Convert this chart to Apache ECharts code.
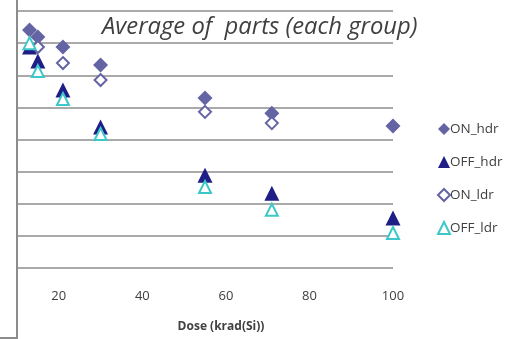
<!DOCTYPE html>
<html><head><meta charset="utf-8">
<script src="https://cdn.jsdelivr.net/npm/echarts@6/dist/echarts.min.js"></script>
<style>html,body{margin:0;padding:0;background:#fff}#c{width:525px;height:339px}</style>
</head><body><div id="c"></div>
<script>
var title = 'Average of  parts (each group)';
var xName = 'Dose (krad(Si))';
var xTicks = [20, 40, 60, 80, 100];
var onHdr  = [[13, 7.41], [15, 7.19], [21, 6.88], [30, 6.32], [55, 5.29], [71, 4.82], [100, 4.42]];
var offHdr = [[13, 6.88], [15, 6.44], [21, 5.54], [30, 4.39], [55, 2.89], [71, 2.33], [100, 1.56]];
var onLdr  = [[15, 6.88], [21, 6.38], [30, 5.85], [55, 4.86], [71, 4.51]];
var offLdr = [[13, 7.00], [15, 6.13], [21, 5.26], [30, 4.17], [55, 2.52], [71, 1.81], [100, 1.09]];

var chart = echarts.init(document.getElementById('c'), null, {renderer: 'canvas'});
var font = 'Open Sans';
chart.setOption({
  animation: false,
  backgroundColor: '#fff',
  title: {
    text: title, left: 97, top: 10,
    textStyle: {fontFamily: font, fontStyle: 'italic', fontWeight: 'normal', fontSize: 23.8, color: '#404040'}
  },
  legend: {
    orient: 'vertical', left: 432, top: 117,
    itemWidth: 12, itemHeight: 12, itemGap: 19,
    textStyle: {fontFamily: font, fontSize: 13.5, color: '#404040', lineHeight: 14, padding: [0, 0, 0, -5]},
    data: ['ON_hdr', 'OFF_hdr', 'ON_ldr', 'OFF_ldr']
  },
  grid: {left: 17, right: 132, top: 11, bottom: 71},
  xAxis: {
    type: 'value', min: 10, max: 100, interval: 10,
    name: xName, nameLocation: 'middle', nameGap: 53,
    nameTextStyle: {fontFamily: font, fontWeight: 'bold', fontSize: 12, color: '#404040', padding: [0, 0, 0, 32]},
    axisLine: {show: false}, axisTick: {show: false}, splitLine: {show: false},
    axisLabel: {
      margin: 22, fontFamily: font, fontSize: 13, color: '#404040',
      formatter: function (v) { return xTicks.indexOf(v) >= 0 ? String(v) : ''; }
    }
  },
  yAxis: {
    type: 'value', min: 0, max: 8, interval: 1,
    axisLine: {show: false}, axisTick: {show: false}, axisLabel: {show: false},
    splitLine: {lineStyle: {color: '#8c8c8c', width: 1.6}}
  },
  graphic: [
    {type: 'polyline', shape: {points: [[17, 0], [17, 338], [0, 338]]}, style: {stroke: '#8c8c8c', lineWidth: 2, fill: null}, z: 100}
  ],
  series: [
    {name: 'ON_hdr', type: 'scatter', data: onHdr, symbol: 'diamond', symbolSize: 15,
     itemStyle: {color: '#6464a4', opacity: 1}},
    {name: 'OFF_hdr', type: 'scatter', data: offHdr, symbol: 'triangle', symbolSize: 15,
     itemStyle: {color: '#1e1e86', opacity: 1}},
    {name: 'ON_ldr', type: 'scatter', data: onLdr, symbol: 'diamond', symbolSize: 12,
     itemStyle: {color: '#ffffff', borderColor: '#6464a4', borderWidth: 2, opacity: 1}},
    {name: 'OFF_ldr', type: 'scatter', data: offLdr, symbol: 'triangle', symbolSize: 12,
     itemStyle: {color: '#ffffff', borderColor: '#3cc8c8', borderWidth: 2, opacity: 1}}
  ]
});
</script></body></html>
